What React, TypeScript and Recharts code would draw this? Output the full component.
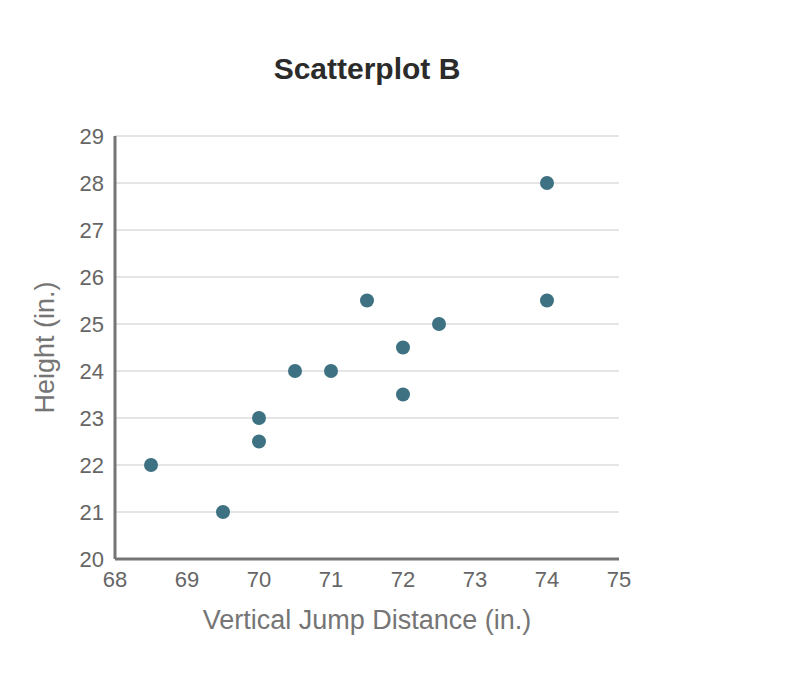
import React from 'react';
import { ScatterChart, Scatter, XAxis, YAxis, CartesianGrid, Label } from 'recharts';

const jumpDistance = [68.5, 69.5, 70, 70, 70.5, 71, 71.5, 72, 72, 72.5, 74, 74];
const heights = [22, 21, 23, 22.5, 24, 24, 25.5, 24.5, 23.5, 25, 28, 25.5];
const xTicks = [68, 69, 70, 71, 72, 73, 74, 75];
const yTicks = [20, 21, 22, 23, 24, 25, 26, 27, 28, 29];

const data = jumpDistance.map((x, i) => ({ x, y: heights[i] }));

const Dot = (props: any) => {
  const { cx, cy } = props;
  return <circle cx={cx} cy={cy} r={7} fill="#3e7282" />;
};

export default function App() {
  const font = '"Liberation Sans", Arial, sans-serif';
  return (
    <div style={{ position: 'absolute', left: 0, top: 0, width: 800, height: 684, background: '#fff', fontFamily: font }}>
      <div style={{ position: 'absolute', left: 115, width: 504, top: 52, textAlign: 'center', fontSize: 30, fontWeight: 'bold', color: '#2b2b2b', lineHeight: 'normal' }}>
        Scatterplot B
      </div>
      <ScatterChart width={800} height={684} margin={{ top: 136, right: 181, bottom: 95, left: 40 }}>
        <CartesianGrid vertical={false} stroke="#dddddd" strokeWidth={1.5} />
        <XAxis
          type="number"
          dataKey="x"
          domain={[68, 75]}
          ticks={xTicks}
          tickLine={false}
          tickSize={0}
          tickMargin={12}
          axisLine={{ stroke: '#757575', strokeWidth: 3 }}
          tick={{ fill: '#666666', fontSize: 22, fontFamily: font }}
          height={30}
        >
          <Label value="Vertical Jump Distance (in.)" position="bottom" offset={21} style={{ fill: '#757575', fontSize: 27, fontFamily: font }} />
        </XAxis>
        <YAxis
          type="number"
          dataKey="y"
          domain={[20, 29]}
          ticks={yTicks}
          tickLine={false}
          tickSize={0}
          tickMargin={11}
          width={75}
          axisLine={{ stroke: '#757575', strokeWidth: 3 }}
          tick={{ fill: '#666666', fontSize: 22, fontFamily: font }}
        >
          <Label value="Height (in.)" angle={-90} position="insideLeft" offset={4} style={{ textAnchor: 'middle', fill: '#757575', fontSize: 27, fontFamily: font }} />
        </YAxis>
        <Scatter data={data} shape={Dot} isAnimationActive={false} />
      </ScatterChart>
    </div>
  );
}
